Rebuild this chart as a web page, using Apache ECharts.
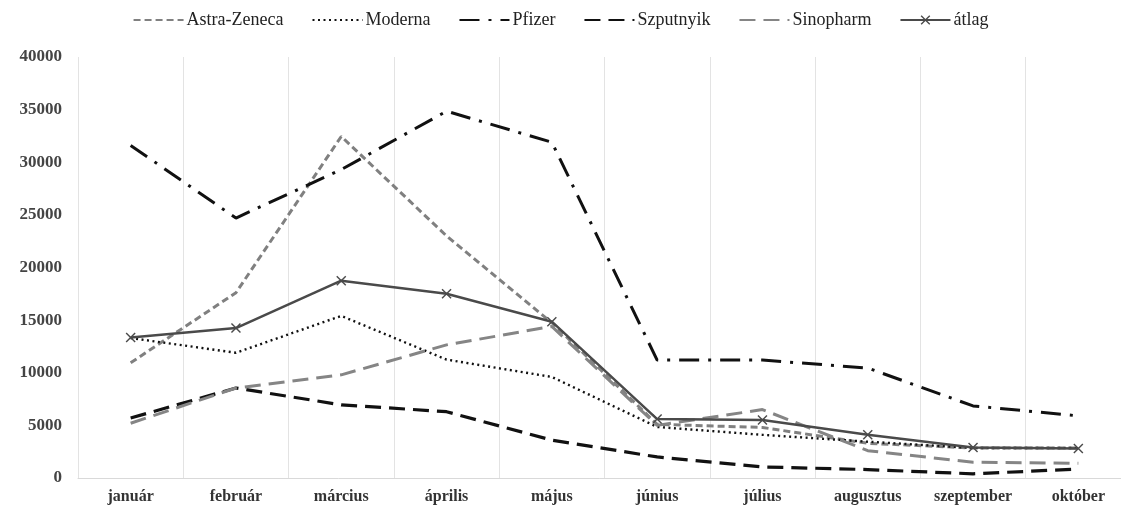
<!DOCTYPE html>
<html><head><meta charset="utf-8">
<script src="https://cdn.jsdelivr.net/npm/echarts@6/dist/echarts.min.js"></script>
<style>html,body{margin:0;padding:0;background:#fff}#c{width:1121px;height:507px}</style>
</head><body><div id="c"></div>
<script>
const months = ['január','február','március','április','május','június','július','augusztus','szeptember','október'];
const astra = [10950, 17600, 32450, 23000, 14750, 5100, 4800, 3300, 2850, 2850];
const moderna = [13300, 11900, 15400, 11250, 9600, 4850, 4100, 3450, 2850, 2850];
const pfizer = [31600, 24700, 29300, 34850, 31900, 11200, 11200, 10450, 6850, 5900];
const szputnyik = [5700, 8550, 6950, 6300, 3600, 2000, 1050, 800, 400, 850];
const sinopharm = [5200, 8550, 9800, 12650, 14400, 5000, 6500, 2600, 1500, 1400];
const atlag = [13350, 14250, 18750, 17500, 14850, 5600, 5500, 4100, 2900, 2800];
const yTicks = [0, 5000, 10000, 15000, 20000, 25000, 30000, 35000, 40000];

const font = '"Liberation Serif", "DejaVu Serif", serif';
const xPath = 'path://M0,1L1,0L5,4L9,0L10,1L6,5L10,9L9,10L5,6L1,10L0,9L4,5Z';
function ln(name, data, color, type, width, extra) {
  return Object.assign({
    name, type: 'line', data, symbol: 'none', smooth: false,
    lineStyle: { color, type, width, cap: 'butt' },
    itemStyle: { color }
  }, extra || {});
}
const chart = echarts.init(document.getElementById('c'), null, { renderer: 'canvas' });
chart.setOption({
  animation: false,
  backgroundColor: '#fff',
  legend: {
    top: 6, left: 'center', itemWidth: 50, itemHeight: 12, itemGap: 28,
    textStyle: { fontFamily: font, fontSize: 18, color: '#222', padding: [0, 0, 0, -2] },
    itemStyle: { opacity: 0 },
    data: ['Astra-Zeneca', 'Moderna', 'Pfizer', 'Szputnyik', 'Sinopharm',
      { name: 'átlag', itemStyle: { opacity: 1 } }]
  },
  grid: { left: 78, top: 57, bottom: 29, width: 1053, outerBoundsMode: 'none', containLabel: false },
  xAxis: {
    type: 'category', data: months, boundaryGap: true,
    axisLine: { show: true, lineStyle: { color: '#d9d9d9', width: 1 } },
    axisTick: { show: false },
    splitLine: { show: true, lineStyle: { color: '#e3e3e3', width: 1 } },
    axisLabel: { fontFamily: font, fontSize: 16, fontWeight: 'bold', color: '#333', margin: 11 }
  },
  yAxis: {
    type: 'value', min: yTicks[0], max: yTicks[yTicks.length - 1], interval: 5000,
    axisLine: { show: false }, axisTick: { show: false },
    splitLine: { show: false },
    axisLabel: { fontFamily: font, fontSize: 17, fontWeight: 'bold', color: '#444', margin: 16,
      formatter: v => String(v) }
  },
  series: [
    ln('Astra-Zeneca', astra, '#808080', [7, 4], 3),
    ln('Moderna', moderna, '#111', [2, 3.5], 2.4),
    ln('Pfizer', pfizer, '#111', [20, 9, 3, 9], 3),
    ln('Szputnyik', szputnyik, '#111', [16, 8], 3.2),
    ln('Sinopharm', sinopharm, '#858585', [16, 8], 3),
    ln('átlag', atlag, '#4a4a4a', 'solid', 2.5, {
      symbol: xPath, symbolSize: 10, showSymbol: true,
      itemStyle: { color: '#4a4a4a' }
    })
  ]
});
</script></body></html>
